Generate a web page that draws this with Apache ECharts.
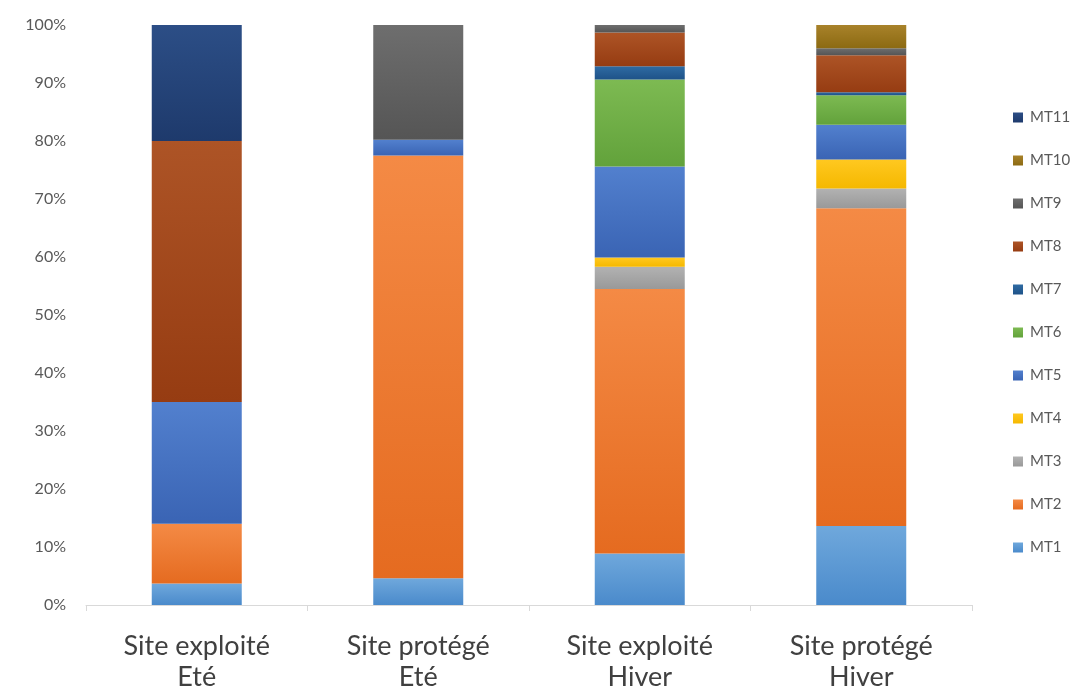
<!DOCTYPE html>
<html>
<head>
<meta charset="utf-8">
<script src="https://cdn.jsdelivr.net/npm/echarts@6/dist/echarts.min.js"></script>
<style>
  html, body { margin: 0; padding: 0; background: #fff; }
  #chart { width: 1087px; height: 697px; }
</style>
</head>
<body>
<div id="chart"></div>
<script>
// catégories (axe X)
var categories = ['Site exploité\nEté', 'Site protégé\nEté', 'Site exploité\nHiver', 'Site protégé\nHiver'];

// parts en %
var mt1  = [3.7, 4.6, 8.9, 13.6];
var mt2  = [10.3, 72.9, 45.6, 54.8];
var mt3  = [0, 0, 3.8, 3.4];
var mt4  = [0, 0, 1.6, 5.0];
var mt5  = [21.0, 2.7, 15.7, 6.0];
var mt6  = [0, 0, 15.0, 5.1];
var mt7  = [0, 0, 2.3, 0.5];
var mt8  = [45.0, 0, 5.8, 6.4];
var mt9  = [0, 19.8, 1.3, 1.2];
var mt10 = [0, 0, 0, 4.0];
var mt11 = [20.0, 0, 0, 0];

var seriesNames = ['MT1', 'MT2', 'MT3', 'MT4', 'MT5', 'MT6', 'MT7', 'MT8', 'MT9', 'MT10', 'MT11'];
var seriesData = [mt1, mt2, mt3, mt4, mt5, mt6, mt7, mt8, mt9, mt10, mt11];
// couleur claire (haut) / foncée (bas), style Excel
var colorsTop = ['#6FA8DC', '#F48A45', '#B2B2B2', '#FFC820', '#5280CE', '#7DBA52', '#2F6BA3', '#AD5426', '#6E6E6E', '#A8822A', '#2C4E86'];
var colorsBot = ['#4A8ACB', '#E56B20', '#999999', '#F5B800', '#3A64B4', '#62A23B', '#1E5288', '#963C12', '#555555', '#8C6A12', '#1E3A6C'];

var fontName = 'Lato, "Open Sans", sans-serif';

var chart = echarts.init(document.getElementById('chart'));

var series = seriesNames.map(function (name, i) {
    return {
        name: name,
        type: 'bar',
        stack: 'total',
        barWidth: 90,
        data: seriesData[i],
        itemStyle: {
            color: new echarts.graphic.LinearGradient(0, 0, 0, 1, [
                { offset: 0, color: colorsTop[i] },
                { offset: 1, color: colorsBot[i] }
            ])
        }
    };
});

chart.setOption({
    animation: false,
    textStyle: { fontFamily: fontName },
    grid: {
        left: 86,
        right: 115,
        top: 25,
        bottom: 92
    },
    legend: {
        orient: 'vertical',
        left: 1008,
        top: 105,
        itemWidth: 10,
        itemHeight: 10,
        itemGap: 28,
        icon: 'rect',
        data: seriesNames.slice().reverse(),
        textStyle: { fontSize: 15, color: '#595959', fontFamily: fontName, padding: [0, 0, 0, 2] }
    },
    xAxis: {
        type: 'category',
        data: categories,
        axisLine: { lineStyle: { color: '#D9D9D9', width: 1 } },
        axisTick: { show: true, length: 6, lineStyle: { color: '#D9D9D9' } },
        axisLabel: {
            interval: 0,
            fontSize: 27,
            lineHeight: 31,
            margin: 26,
            color: '#404040',
            fontFamily: fontName
        }
    },
    yAxis: {
        type: 'value',
        min: 0,
        max: 100,
        interval: 10,
        axisLine: { show: false },
        axisTick: { show: false },
        splitLine: { show: false },
        axisLabel: {
            formatter: '{value}%',
            fontSize: 16,
            margin: 20,
            color: '#595959',
            fontFamily: fontName
        }
    },
    series: series
});
</script>
</body>
</html>
